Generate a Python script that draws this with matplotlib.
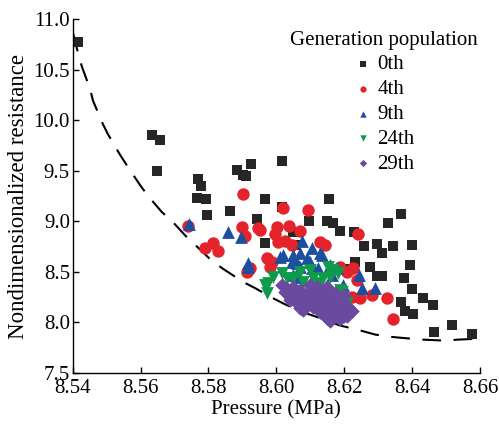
import numpy as np
import matplotlib
matplotlib.use("Agg")
import matplotlib.pyplot as plt

plt.rcParams['font.family'] = ['Liberation Serif', 'DejaVu Serif']
plt.rcParams['mathtext.fontset'] = 'stix'

# generation 0
p0 = [8.5416, 8.5634, 8.5657, 8.5648, 8.5769, 8.5778, 8.5766, 8.5793, 8.5796, 8.5863,
      8.5884, 8.5902, 8.5911, 8.5925, 8.5943, 8.6017, 8.5967, 8.6017, 8.5967, 8.6096,
      8.6155, 8.6149, 8.6167, 8.6187, 8.6229, 8.6258, 8.6297, 8.6311, 8.6344, 8.6329,
      8.6367, 8.6400, 8.6394, 8.6276, 8.6296, 8.6311, 8.6376, 8.6400, 8.6432, 8.6462,
      8.6367, 8.6379, 8.6402, 8.6464, 8.6517, 8.6576, 8.6232, 8.6055, 8.6049, 8.6211]
r0 = [10.77, 9.85, 9.80, 9.50, 9.42, 9.35, 9.23, 9.22, 9.06, 9.10,
      9.51, 9.46, 9.45, 9.57, 9.02, 9.60, 9.22, 9.14, 8.79, 9.00,
      9.22, 9.00, 8.98, 8.90, 8.89, 8.76, 8.78, 8.69, 8.76, 8.98,
      9.07, 8.77, 8.57, 8.55, 8.46, 8.46, 8.44, 8.33, 8.24, 8.17,
      8.20, 8.11, 8.08, 7.91, 7.97, 7.89, 8.60, 8.77, 8.89, 8.53]

# generation 4
p4 = [8.5902, 8.5740, 8.5790, 8.5813, 8.5828, 8.5899, 8.5908, 8.5946, 8.5972, 8.5981,
      8.5922, 8.5913, 8.6002, 8.6005, 8.6020, 8.6093, 8.6037, 8.6025, 8.5996, 8.6129,
      8.6143, 8.6240, 8.5987, 8.6187, 8.6208, 8.6226, 8.6238, 8.6223, 8.6246, 8.6282,
      8.6326, 8.6344, 8.5952, 8.5916, 8.6046, 8.6070]
r4 = [9.27, 8.95, 8.74, 8.79, 8.71, 8.94, 8.85, 8.93, 8.64, 8.55,
      8.54, 8.50, 8.94, 8.80, 9.13, 9.11, 8.95, 8.81, 8.87, 8.80,
      8.77, 8.87, 8.60, 8.55, 8.50, 8.54, 8.42, 8.25, 8.24, 8.27,
      8.24, 8.03, 8.91, 8.52, 8.77, 8.90]

# generation 9
p9 = [8.5743, 8.5858, 8.5896, 8.5916, 8.5916, 8.6076, 8.6105, 8.6129, 8.6020, 8.6049,
      8.6061, 8.6090, 8.6105, 8.6179, 8.6196, 8.6243, 8.6252, 8.6291, 8.6158, 8.6061,
      8.6046, 8.6070, 8.6099, 8.6123, 8.6049, 8.6164, 8.6070, 8.6134, 8.6011]
r9 = [8.97, 8.89, 8.84, 8.59, 8.55, 8.81, 8.74, 8.69, 8.67, 8.67,
      8.59, 8.64, 8.54, 8.54, 8.37, 8.47, 8.34, 8.34, 8.57, 8.45,
      8.60, 8.55, 8.60, 8.54, 8.47, 8.47, 8.69, 8.67, 8.65]

# generation 24
p24 = [8.5975, 8.5972, 8.5990, 8.5967, 8.6031, 8.6099, 8.6152, 8.6182, 8.6120, 8.6187,
       8.6079, 8.6049, 8.6137, 8.6070, 8.6108, 8.6123, 8.6167, 8.6158, 8.6193, 8.6208,
       8.6017]
r24 = [8.39, 8.29, 8.45, 8.37, 8.44, 8.52, 8.55, 8.49, 8.39, 8.32,
       8.40, 8.44, 8.44, 8.50, 8.44, 8.37, 8.52, 8.45, 8.30, 8.19,
       8.49]

# generation 29
p29 = [8.6025, 8.6046, 8.6070, 8.6061, 8.6079, 8.6108, 8.6123, 8.6149, 8.6158, 8.6179,
       8.6196, 8.6208, 8.6187, 8.6173, 8.6143, 8.6129, 8.6108, 8.6093, 8.6211, 8.6193,
       8.6173, 8.6099, 8.6049, 8.6152, 8.6137, 8.6090, 8.6070, 8.6120, 8.6017, 8.6040,
       8.6223, 8.6199, 8.6158, 8.6129, 8.6030, 8.6055, 8.6085, 8.6115, 8.6140, 8.6165,
       8.6185, 8.6205, 8.6160, 8.6100, 8.6135, 8.6075, 8.6150, 8.6200]
r29 = [8.30, 8.27, 8.32, 8.19, 8.12, 8.29, 8.22, 8.35, 8.22, 8.12,
       8.10, 8.06, 8.03, 8.08, 8.06, 8.10, 8.15, 8.20, 8.15, 8.22,
       8.29, 8.37, 8.35, 8.12, 8.27, 8.27, 8.14, 8.35, 8.37, 8.22,
       8.11, 8.27, 8.01, 8.18, 8.33, 8.30, 8.25, 8.20, 8.15, 8.13,
       8.18, 8.12, 8.25, 8.31, 8.32, 8.23, 8.04, 8.06]

# dashed trend curve
curve_p = [8.5401, 8.5416, 8.5427, 8.5451, 8.5460, 8.5489, 8.5504, 8.5539, 8.5560, 8.5598,
           8.5622, 8.5663, 8.5693, 8.5737, 8.5766, 8.5813, 8.5843, 8.5902, 8.5937, 8.5990,
           8.6025, 8.6079, 8.6123, 8.6187, 8.6237, 8.6291, 8.6329, 8.6394, 8.6432, 8.6497,
           8.6535, 8.6600]
curve_r = [10.86, 10.66, 10.53, 10.31, 10.19, 9.96, 9.86, 9.66, 9.55, 9.36,
           9.25, 9.09, 9.00, 8.84, 8.75, 8.60, 8.53, 8.40, 8.34, 8.24,
           8.18, 8.10, 8.05, 7.97, 7.93, 7.88, 7.86, 7.84, 7.83, 7.82,
           7.83, 7.84]

fig = plt.figure(figsize=(4.99, 4.28), dpi=100)
ax = fig.add_axes([0.1457, 0.1285, 0.8163, 0.8271])

ax.plot(curve_p, curve_r, color='black', lw=1.5, dashes=(9, 6), zorder=1)

ax.scatter(p0, r0, marker='s', s=60, color='#262626', lw=0, label='0th', zorder=2)
ax.scatter(p4, r4, marker='o', s=80, color='#e5232a', lw=0, label='4th', zorder=3)
ax.scatter(p9, r9, marker='^', s=85, color='#1d4f9f', lw=0, label='9th', zorder=4)
ax.scatter(p24, r24, marker='v', s=85, color='#109a4c', lw=0, label='24th', zorder=5)
ax.scatter(p29, r29, marker='D', s=55, color='#6a4a9e', lw=0, label='29th', zorder=6)

ax.set_xlim(8.54, 8.66)
ax.set_ylim(7.5, 11.0)
ax.set_xticks(np.arange(8.54, 8.661, 0.02))
ax.set_yticks(np.arange(7.5, 11.01, 0.5))
ax.xaxis.set_major_formatter(plt.FormatStrFormatter('%.2f'))
ax.yaxis.set_major_formatter(plt.FormatStrFormatter('%.1f'))
ax.tick_params(direction='in', length=4, width=1, labelsize=15)
ax.tick_params(axis='x', pad=4)
ax.tick_params(axis='y', pad=2)
for s in ['top', 'right']:
    ax.spines[s].set_visible(False)
for s in ['left', 'bottom']:
    ax.spines[s].set_linewidth(1)

ax.set_xlabel('Pressure (MPa)', fontsize=15, labelpad=2)
ax.set_ylabel('Nondimensionalized resistance', fontsize=16.5, labelpad=3)

leg = ax.legend(title='Generation population', loc='upper right', bbox_to_anchor=(1.04, 1.02),
                frameon=False, fontsize=15, title_fontsize=15, markerscale=0.5,
                handletextpad=0.2, labelspacing=0.25, handlelength=1.0)

fig.savefig('out.png', dpi=100)
